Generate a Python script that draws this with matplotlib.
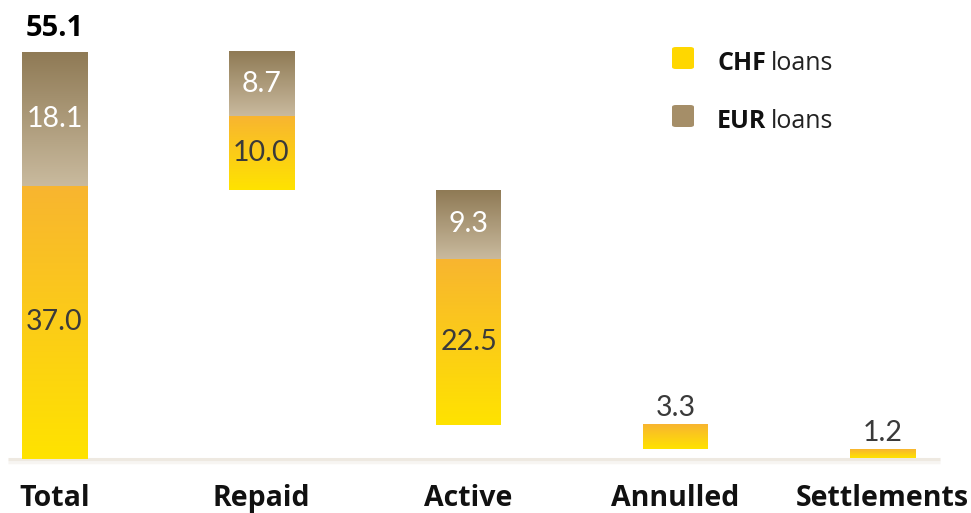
import numpy as np
import matplotlib

matplotlib.use("Agg")
import matplotlib.pyplot as plt
from matplotlib.colors import LinearSegmentedColormap
from matplotlib.patches import FancyBboxPatch

plt.rcParams["font.family"] = ["Lato", "DejaVu Sans"]
BOLD_FONT = ["Open Sans", "DejaVu Sans"]

# data
categories = ["Total", "Repaid", "Active", "Annulled", "Settlements"]
chf = [37.0, 10.0, 22.5, 3.3, 1.2]
eur = [18.1, 8.7, 9.3, 0.0, 0.0]
total_label = "55.1"

W, H = 971, 513
fig = plt.figure(figsize=(W / 100, H / 100), dpi=100)
ax = fig.add_axes([0, 0, 1, 1])

px_x = 207.0  # pixels per category step
px_y = 7.39  # pixels per unit
x0_px, base_px = 54.5, 54.0  # first bar centre, baseline from bottom
xlim = (-x0_px / px_x, (W - x0_px) / px_x)
ylim = (-base_px / px_y, (H - base_px) / px_y)
bar_w = 65 / px_x

chf_cmap = LinearSegmentedColormap.from_list("chf", ["#FFE300", "#F8B530"])
eur_cmap = LinearSegmentedColormap.from_list("eur", ["#C9BA9E", "#8F7A55"])
grad = np.linspace(0, 1, 256).reshape(-1, 1)


def grad_bar(x, y0, y1, cmap):
    ax.imshow(grad, extent=[x - bar_w / 2, x + bar_w / 2, y0, y1],
              origin="lower", aspect="auto", cmap=cmap, zorder=2)


# waterfall layout
level = chf[0] + eur[0]
for i, cat in enumerate(categories):
    if i == 0:
        bottom = 0.0
    else:
        bottom = level - chf[i] - eur[i]
        level = bottom
    c_top = bottom + chf[i]
    grad_bar(i, bottom, c_top, chf_cmap)
    if eur[i] > 0:
        grad_bar(i, c_top, c_top + eur[i], eur_cmap)
        ax.text(i, c_top + eur[i] / 2, f"{eur[i]:.1f}", ha="center", va="center",
                color="white", fontsize=20.5, zorder=3)
        ax.text(i, bottom + chf[i] / 2, f"{chf[i]:.1f}", ha="center", va="center",
                color="#3a3a3a", fontsize=20.5, zorder=3)
    else:
        ax.text(i, c_top + 0.5, f"{chf[i]:.1f}", ha="center", va="bottom",
                color="#3a3a3a", fontsize=20.5, zorder=3)
    ax.text(i, ylim[0] + 1.9, cat, ha="center", va="center", family=BOLD_FONT,
            fontsize=20.5, fontweight="bold", color="#111111")

ax.text(0, chf[0] + eur[0] + 2.2, total_label, ha="center", va="baseline",
        family=BOLD_FONT, fontsize=21, fontweight="bold", color="black")

# baseline
ax.plot([xlim[0] + 8 / px_x, xlim[0] + 940 / px_x], [0, 0], color="#EEE9E1",
        lw=2.2, zorder=1, solid_capstyle="butt")
ax.plot([xlim[0] + 8 / px_x, xlim[0] + 940 / px_x], [-0.35, -0.35], color="#F7F5F2",
        lw=2.5, zorder=0, solid_capstyle="butt")

ax.set_xlim(*xlim)
ax.set_ylim(*ylim)
ax.axis("off")

# legend
for y_px, col, code in [(58, "#FFD700", "CHF"), (116, "#A58E68", "EUR")]:
    fig.patches.append(FancyBboxPatch(
        (672 / W, 1 - (y_px + 11) / H), 22 / W, 22 / H,
        boxstyle="round,pad=0,rounding_size=0.004", transform=fig.transFigure,
        facecolor=col, edgecolor="none"))
    fig.text(717 / W, 1 - (y_px + 12) / H, code, fontsize=18, fontweight="bold",
             family=BOLD_FONT, va="baseline", ha="left", color="#111111")
    fig.text(771 / W, 1 - (y_px + 12) / H, "loans", fontsize=18,
             family=BOLD_FONT, va="baseline", ha="left", color="#222222")

fig.savefig("out.png", dpi=100)
